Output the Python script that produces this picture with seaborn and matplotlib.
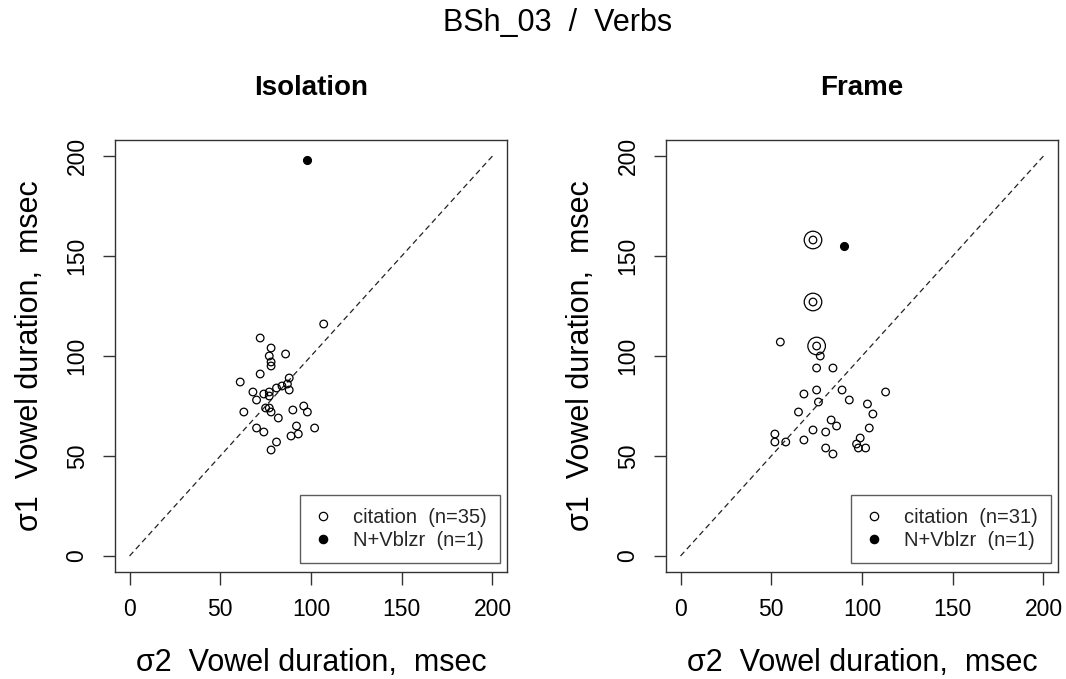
import matplotlib
matplotlib.use("Agg")
import matplotlib.pyplot as plt
import seaborn as sns
import pandas as pd
from matplotlib.lines import Line2D

# ---- data ----
iso_x = [107, 72, 78, 86, 77, 78, 78, 72, 61, 88, 87, 81, 84, 88, 68, 74, 77, 70, 77, 63,
         75, 77, 78, 82, 90, 96, 98, 70, 74, 92, 102, 93, 89, 81, 78]
iso_y = [116, 109, 104, 101, 100, 97, 95, 91, 87, 89, 86, 84, 85, 83, 82, 81, 82, 78, 80, 72,
         74, 74, 72, 69, 73, 75, 72, 64, 62, 65, 64, 61, 60, 57, 53]
iso_vb_x = [98]
iso_vb_y = [198]

fr_x = [73, 73, 75, 55, 77, 75, 84, 68, 75, 89, 76, 93, 113, 65, 103, 106, 83, 86, 73, 80,
        104, 52, 52, 58, 68, 99, 97, 98, 102, 80, 84]
fr_y = [158, 127, 105, 107, 100, 94, 94, 81, 83, 83, 77, 78, 82, 72, 76, 71, 68, 65, 63, 62,
        64, 61, 57, 57, 58, 59, 56, 54, 54, 54, 51]
fr_ring_x = [73, 73, 75]
fr_ring_y = [158, 127, 105]
fr_vb_x = [90]
fr_vb_y = [155]

panel_titles = ["Isolation", "Frame"]
legend_labels = [["citation  (n=35)", "N+Vblzr  (n=1)"], ["citation  (n=31)", "N+Vblzr  (n=1)"]]
ticks = [0, 50, 100, 150, 200]

sns.set_theme(style="white")
plt.rcParams['font.family'] = ['Liberation Sans', 'DejaVu Sans']

fig = plt.figure(figsize=(10.66, 6.79), dpi=100)
W, H = 1066, 679
ax1 = fig.add_axes([115 / W, 1 - 572 / H, 392 / W, 432 / H])
ax2 = fig.add_axes([666 / W, 1 - 572 / H, 392 / W, 432 / H])

panels = [
    (ax1, iso_x, iso_y, iso_vb_x, iso_vb_y, None, None),
    (ax2, fr_x, fr_y, fr_vb_x, fr_vb_y, fr_ring_x, fr_ring_y),
]

for i, (ax, cx, cy, vx, vy, rx, ry) in enumerate(panels):
    ax.plot([0, 200], [0, 200], ls=(0, (4.5, 3)), color="#222222", lw=0.9, zorder=1)
    dfc = pd.DataFrame({"x": cx, "y": cy})
    sns.scatterplot(data=dfc, x="x", y="y", ax=ax, marker="o", s=30,
                    facecolor="none", edgecolor="black", linewidth=0.9, zorder=3)
    if rx is not None:
        dfr = pd.DataFrame({"x": rx, "y": ry})
        sns.scatterplot(data=dfr, x="x", y="y", ax=ax, marker="o", s=160,
                        facecolor="none", edgecolor="black", linewidth=0.9, zorder=3)
    dfv = pd.DataFrame({"x": vx, "y": vy})
    sns.scatterplot(data=dfv, x="x", y="y", ax=ax, marker="o", s=32,
                    color="black", edgecolor="black", linewidth=0.9, zorder=4)

    ax.set_xlim(-8, 208)
    ax.set_ylim(-8, 208)
    ax.set_xticks(ticks)
    ax.set_yticks(ticks)
    ax.set_xticklabels([str(t) for t in ticks])
    ax.set_yticklabels([str(t) for t in ticks], rotation=90, va="center")
    ax.tick_params(axis="both", which="both", direction="out", length=9, width=1,
                   color="#333333", labelsize=16.5, pad=10, bottom=True, left=True,
                   labelcolor="black")
    for sp in ax.spines.values():
        sp.set_color("#333333")
        sp.set_linewidth(1)
    ax.set_xlabel("σ2  Vowel duration,  msec", fontsize=22, color="black", va="center")
    ax.set_ylabel("σ1  Vowel duration,  msec", fontsize=22, color="black", va="center")
    ax.xaxis.set_label_coords(0.5, (572 - 663) / 432)
    ax.yaxis.set_label_coords((30 - 115) / 392, 0.5)
    ax.text(0.5, (572 - 88) / 432, panel_titles[i], transform=ax.transAxes,
            ha="center", va="center", fontsize=20, fontweight="bold", color="black")

    handles = [
        Line2D([], [], marker="o", ls="none", markersize=6, markerfacecolor="none",
               markeredgecolor="black", markeredgewidth=0.9),
        Line2D([], [], marker="o", ls="none", markersize=6, markerfacecolor="black",
               markeredgecolor="black", markeredgewidth=0.9),
    ]
    leg = ax.legend(handles, legend_labels[i], loc="lower right",
                    bbox_to_anchor=(0.982, 0.021), borderaxespad=0, fontsize=14.5,
                    frameon=True, fancybox=False, edgecolor="#333333",
                    handlelength=1.0, handletextpad=1.0, labelspacing=0.2,
                    borderpad=0.65)
    leg.get_frame().set_linewidth(1)

fig.text(558 / W, 1 - 23 / H, "BSh_03  /  Verbs", ha="center", va="center", fontsize=22,
         color="black")

fig.savefig("out.png", dpi=100, facecolor="white")
